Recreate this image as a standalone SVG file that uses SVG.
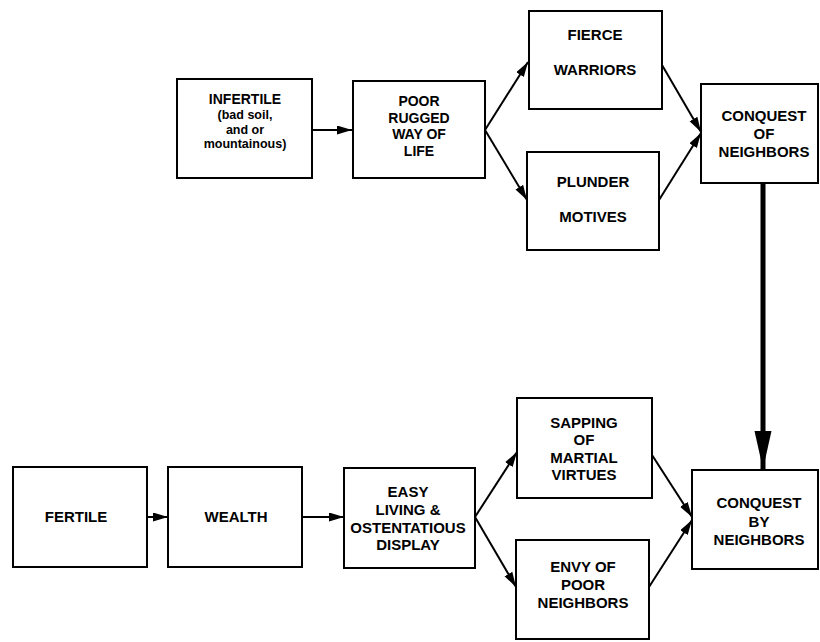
<svg xmlns="http://www.w3.org/2000/svg" width="820" height="642" viewBox="0 0 820 642">
<style>
.box{fill:#fff;stroke:#000;stroke-width:2}
.t{font-family:"Liberation Sans",Arial,sans-serif;font-weight:bold;font-size:15px;text-anchor:middle;fill:#000}
.m{font-size:14px}
.s{font-size:12.5px}
.c{stroke:#000;stroke-width:2;fill:none}
.thick{stroke:#000;stroke-width:5;fill:none}
</style>
<defs>
<marker id="ah" markerUnits="userSpaceOnUse" markerWidth="16" markerHeight="10" refX="15" refY="4.5" orient="auto">
<path d="M0,0 L15,4.5 L0,9 z" fill="#000"/>
</marker>
<marker id="big" markerUnits="userSpaceOnUse" markerWidth="40" markerHeight="18" refX="38" refY="8.5" orient="auto">
<path d="M0,0 L38,8.5 L0,17 z" fill="#000"/>
</marker>
</defs>
<rect width="820" height="642" fill="#fff"/>
<g id="connectors">
<line class="c" x1="312" y1="130" x2="352" y2="130" marker-end="url(#ah)"/>
<line class="c" x1="485" y1="130" x2="528" y2="62" marker-end="url(#ah)"/>
<line class="c" x1="485" y1="130" x2="527" y2="200" marker-end="url(#ah)"/>
<line class="c" x1="662" y1="65" x2="701" y2="132" marker-end="url(#ah)"/>
<line class="c" x1="659" y1="200" x2="701" y2="133" marker-end="url(#ah)"/>
<line class="thick" x1="763" y1="183" x2="763" y2="469" marker-end="url(#big)"/>
<line class="c" x1="147" y1="517" x2="168" y2="517" marker-end="url(#ah)"/>
<line class="c" x1="302" y1="517" x2="344" y2="517" marker-end="url(#ah)"/>
<line class="c" x1="475" y1="517" x2="517" y2="452" marker-end="url(#ah)"/>
<line class="c" x1="475" y1="517" x2="516" y2="587" marker-end="url(#ah)"/>
<line class="c" x1="652" y1="455" x2="692" y2="517" marker-end="url(#ah)"/>
<line class="c" x1="649" y1="587" x2="692" y2="520" marker-end="url(#ah)"/>
</g>
<g id="infertile">
<rect class="box" x="177" y="79" width="135" height="99"/>
<text class="t m" x="245" y="104">INFERTILE</text>
<text class="t s" x="245" y="119">(bad soil,</text>
<text class="t s" x="245" y="133.5">and or</text>
<text class="t s" x="245" y="148">mountainous)</text>
</g>
<g id="poor">
<rect class="box" x="353" y="81" width="132" height="97"/>
<text class="t m" x="419" y="106">POOR</text>
<text class="t m" x="419" y="122.5">RUGGED</text>
<text class="t m" x="419" y="139">WAY OF</text>
<text class="t m" x="419" y="155.5">LIFE</text>
</g>
<g id="fierce">
<rect class="box" x="529" y="11" width="133" height="98"/>
<text class="t" x="595" y="40">FIERCE</text>
<text class="t" x="595" y="75">WARRIORS</text>
</g>
<g id="plunder">
<rect class="box" x="527" y="152" width="132" height="98"/>
<text class="t" x="593" y="187">PLUNDER</text>
<text class="t" x="593" y="222">MOTIVES</text>
</g>
<g id="conquest-of">
<rect class="box" x="701" y="84" width="117" height="99"/>
<text class="t" x="764" y="121">CONQUEST</text>
<text class="t" x="764" y="138.5">OF</text>
<text class="t" x="764" y="157">NEIGHBORS</text>
</g>
<g id="fertile">
<rect class="box" x="13" y="467" width="134" height="100"/>
<text class="t" x="76" y="522">FERTILE</text>
</g>
<g id="wealth">
<rect class="box" x="168" y="467" width="134" height="100"/>
<text class="t" x="236" y="522">WEALTH</text>
</g>
<g id="easy">
<rect class="box" x="344" y="468" width="131" height="100"/>
<text class="t" x="408" y="497">EASY</text>
<text class="t" x="408" y="515">LIVING &amp;</text>
<text class="t" x="408" y="533">OSTENTATIOUS</text>
<text class="t" x="408" y="550">DISPLAY</text>
</g>
<g id="sapping">
<rect class="box" x="517" y="398" width="135" height="100"/>
<text class="t" x="584" y="428">SAPPING</text>
<text class="t" x="584" y="445">OF</text>
<text class="t" x="584" y="463">MARTIAL</text>
<text class="t" x="584" y="480">VIRTUES</text>
</g>
<g id="envy">
<rect class="box" x="516" y="540" width="133" height="99"/>
<text class="t" x="583" y="572">ENVY OF</text>
<text class="t" x="583" y="590">POOR</text>
<text class="t" x="583" y="608">NEIGHBORS</text>
</g>
<g id="conquest-by">
<rect class="box" x="692" y="470" width="126" height="99"/>
<text class="t" x="759" y="508">CONQUEST</text>
<text class="t" x="759" y="527">BY</text>
<text class="t" x="759" y="545">NEIGHBORS</text>
</g>
</svg>
